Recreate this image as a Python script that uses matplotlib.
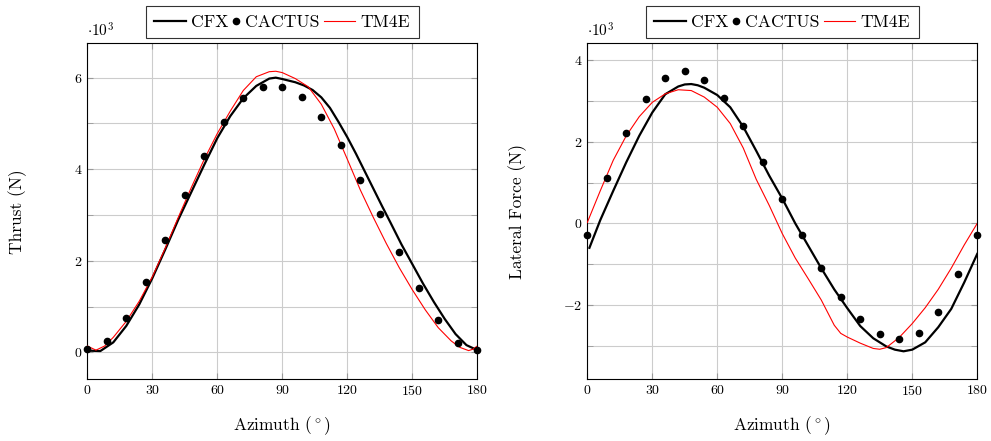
import numpy as np
import matplotlib.pyplot as plt
from matplotlib.ticker import MultipleLocator

plt.rcParams['font.family'] = 'cmr10'
plt.rcParams['mathtext.fontset'] = 'cm'
plt.rcParams['axes.formatter.use_mathtext'] = True

# CACTUS points (every 9 deg), values in kN (x 10^3 N)
cactus_az = [0, 9, 18, 27, 36, 45, 54, 63, 72, 81, 90,
             99, 108, 117, 126, 135, 144, 153, 162, 171, 180]
cactus_thrust = [0.07, 0.25, 0.76, 1.54, 2.46, 3.44, 4.28, 5.03, 5.56, 5.80, 5.79,
                 5.57, 5.14, 4.54, 3.77, 3.02, 2.19, 1.40, 0.70, 0.20, 0.05]
cactus_lateral = [-0.29, 1.11, 2.22, 3.05, 3.56, 3.74, 3.52, 3.07, 2.38, 1.51, 0.59,
                  -0.29, -1.10, -1.80, -2.35, -2.71, -2.85, -2.70, -2.18, -1.24, -0.29]

# CFX thrust
cfx_thrust_az = [0, 6, 12, 18, 24, 30, 36, 42, 48, 54, 60, 66, 72, 78, 84, 87, 90,
                 96, 100, 104, 108, 112, 116, 120, 124, 128, 132, 136, 140, 145,
                 150, 155, 160, 165, 170, 175, 180]
cfx_thrust = [0.04, 0.03, 0.22, 0.58, 1.05, 1.62, 2.25, 2.90, 3.50, 4.10, 4.68,
              5.16, 5.55, 5.82, 5.98, 6.00, 5.97, 5.90, 5.83, 5.73, 5.57, 5.34,
              5.03, 4.70, 4.34, 3.96, 3.58, 3.20, 2.83, 2.36, 1.93, 1.50, 1.10,
              0.73, 0.40, 0.16, 0.05]

# TM4E thrust
tm4e_thrust_az = [0, 4, 8, 12, 18, 24, 30, 36, 42, 48, 54, 60, 66, 72, 78, 84, 87,
                  90, 96, 102, 108, 114, 120, 126, 132, 138, 144, 150, 156, 162,
                  168, 172, 176, 178, 180]
tm4e_thrust = [0.14, 0.05, 0.14, 0.33, 0.68, 1.12, 1.65, 2.28, 2.95, 3.60, 4.22,
               4.78, 5.27, 5.72, 6.02, 6.13, 6.14, 6.11, 5.98, 5.80, 5.42, 4.88,
               4.22, 3.55, 2.95, 2.38, 1.85, 1.37, 0.93, 0.54, 0.25, 0.11, 0.04,
               0.07, 0.14]

# CFX lateral force
cfx_lat_az = [1, 6, 12, 18, 24, 30, 36, 42, 45, 48, 51, 54, 60, 66, 72, 78, 84,
              90, 96, 102, 108, 114, 120, 126, 132, 138, 142, 146, 150, 156, 162,
              168, 174, 180]
cfx_lat = [-0.60, 0.08, 0.80, 1.50, 2.15, 2.72, 3.17, 3.36, 3.41, 3.42, 3.39,
           3.33, 3.15, 2.85, 2.37, 1.78, 1.17, 0.61, 0.00, -0.55, -1.10, -1.62,
           -2.08, -2.52, -2.82, -3.02, -3.10, -3.14, -3.10, -2.92, -2.55, -2.10,
           -1.45, -0.75]

# TM4E lateral force
tm4e_lat_az = [0, 6, 12, 18, 24, 30, 36, 42, 48, 54, 60, 66, 72, 78, 84, 90, 96,
               102, 108, 114, 117, 120, 126, 132, 135, 138, 144, 150, 156, 162,
               168, 174, 180]
tm4e_lat = [0.02, 0.80, 1.55, 2.15, 2.62, 2.97, 3.18, 3.28, 3.26, 3.10, 2.85,
            2.45, 1.85, 1.08, 0.44, -0.25, -0.85, -1.36, -1.88, -2.50, -2.70,
            -2.79, -2.94, -3.07, -3.09, -3.05, -2.80, -2.46, -2.07, -1.62, -1.10,
            -0.53, 0.00]

fig = plt.figure(figsize=(9.91, 4.41), dpi=100)
ax1 = fig.add_axes([0.0881, 0.1406, 0.3935, 0.7612])
ax2 = fig.add_axes([0.5926, 0.1406, 0.3935, 0.7612])


def style(ax, ylabel, ylim, major):
    ax.set_xlim(0, 180)
    ax.set_ylim(*ylim)
    ax.xaxis.set_major_locator(MultipleLocator(30))
    ax.yaxis.set_major_locator(MultipleLocator(major))
    ax.yaxis.set_minor_locator(MultipleLocator(1))
    ax.grid(True, which='both', color='#cccccc', linewidth=0.8)
    ax.set_axisbelow(True)
    ax.tick_params(which='both', direction='in', top=True, right=True,
                   color='#999999', labelsize=10, length=4)
    for s in ax.spines.values():
        s.set_linewidth(0.8)
    ax.set_xlabel(r'Azimuth $(^\circ)$', fontsize=12.5)
    ax.set_ylabel(ylabel, fontsize=12.5)
    ax.xaxis.set_label_coords(0.5, -0.104)
    ax.yaxis.set_label_coords(-0.155, 0.5)
    ax.text(0.0, 1.01, r'$\cdot 10^3$', transform=ax.transAxes,
            ha='left', va='bottom', fontsize=11)


def draw(ax, cfx_x, cfx_y, cac_y, tm_x, tm_y):
    ax.plot(cfx_x, cfx_y, color='black', linewidth=1.6, label='CFX', zorder=3)
    ax.plot(cactus_az, cac_y, 'o', color='black', markersize=4.5,
            label='CACTUS', zorder=4, clip_on=False)
    ax.plot(tm_x, tm_y, color='red', linewidth=0.8, label='TM4E', zorder=3)
    leg = ax.legend(loc='upper center', bbox_to_anchor=(0.5, 1.111), ncol=3,
                    fontsize=12.7, frameon=True, fancybox=False, edgecolor='black',
                    handlelength=1.8, handletextpad=0.3, columnspacing=0.25,
                    borderpad=0.47, borderaxespad=0)
    leg.get_frame().set_linewidth(0.8)
    # make the marker-only entry narrow, as in pgfplots legends
    for col in leg._legend_handle_box.get_children():
        for row in col.get_children():
            da, ta = row.get_children()
            if ta.get_text() == 'CACTUS':
                da.width = 4.5
                for art in da.get_children():
                    art.set_xdata([2.25])


draw(ax1, cfx_thrust_az, cfx_thrust, cactus_thrust, tm4e_thrust_az, tm4e_thrust)
style(ax1, 'Thrust (N)', (-0.58, 6.75), 2)

draw(ax2, cfx_lat_az, cfx_lat, cactus_lateral, tm4e_lat_az, tm4e_lat)
style(ax2, 'Lateral Force (N)', (-3.82, 4.42), 2)

fig.savefig('out.png', dpi=100)
